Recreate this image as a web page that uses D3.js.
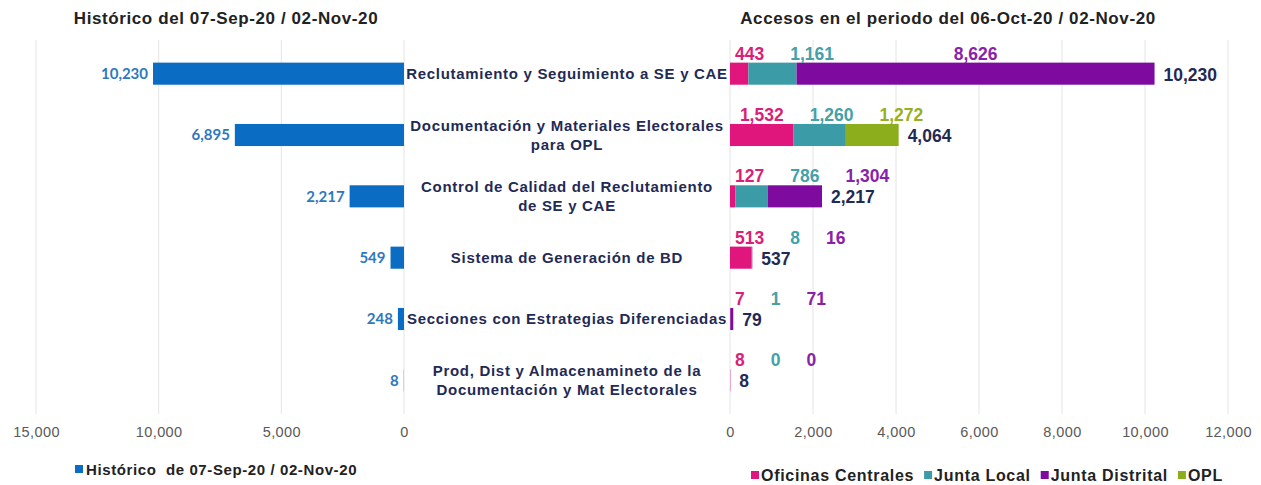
<!DOCTYPE html>
<html>
<head>
<meta charset="utf-8">
<script src="https://cdn.jsdelivr.net/npm/d3@7"></script>
<style>
  body { margin: 0; background: #fff; }
  svg { font-family: "Liberation Sans", Arial, sans-serif; }
</style>
</head>
<body>
<svg id="chart" width="1261" height="485"></svg>
<script>
// data
const categories = [
  "Reclutamiento y Seguimiento a SE y CAE",
  "Documentación y Materiales Electorales\npara OPL",
  "Control de Calidad del Reclutamiento\nde SE y CAE",
  "Sistema de Generación de BD",
  "Secciones con Estrategias Diferenciadas",
  "Prod, Dist y Almacenamineto de la\nDocumentación y Mat Electorales"
];
const historico = [10230, 6895, 2217, 549, 248, 8];
const oficinasCentrales = [443, 1532, 127, 513, 7, 8];
const juntaLocal = [1161, 1260, 786, 8, 1, 0];
const juntaDistrital = [8626, null, 1304, 16, 71, 0];
const opl = [null, 1272, null, null, null, null];

const leftTicks = [15000, 10000, 5000, 0];
const rightTicks = [0, 2000, 4000, 6000, 8000, 10000, 12000];

const leftTitle = "Histórico del 07-Sep-20 / 02-Nov-20";
const rightTitle = "Accesos en el periodo del 06-Oct-20 / 02-Nov-20";
const leftLegend = "Histórico  de 07-Sep-20 / 02-Nov-20";

const series = [
  { name: "Oficinas Centrales", values: oficinasCentrales, color: "#e0167c", label: "#d91f78" },
  { name: "Junta Local", values: juntaLocal, color: "#3b9ba6", label: "#45a0a8" },
  { name: "Junta Distrital", values: juntaDistrital, color: "#7e0aa0", label: "#8a22a8" },
  { name: "OPL", values: opl, color: "#8cad1c", label: "#96b023" }
];

const svg = d3.select("#chart");
const fmt = d3.format(",");
const navy = "#1f2a55";

// scales
const y = d3.scaleBand().domain(d3.range(categories.length))
  .range([43, 411]).paddingInner(0.64).paddingOuter(0.32);
const xL = d3.scaleLinear().domain([0, 15000]).range([404, 36]);
const xR = d3.scaleLinear().domain([0, 12000]).range([730, 1228]);

// gridlines
const grid = svg.append("g");
grid.selectAll("line.gl").data(leftTicks).enter().append("line")
  .attr("x1", d => xL(d)).attr("x2", d => xL(d))
  .attr("y1", 40).attr("y2", 414)
  .attr("stroke", "#e4e4e4").attr("stroke-width", 1);
grid.selectAll("line.gr").data(rightTicks).enter().append("line")
  .attr("x1", d => xR(d)).attr("x2", d => xR(d))
  .attr("y1", 40).attr("y2", 414)
  .attr("stroke", "#e4e4e4").attr("stroke-width", 1);

// axes (labels only)
const axL = svg.append("g").attr("transform", "translate(0,422)")
  .call(d3.axisBottom(xL).tickValues(leftTicks).tickFormat(fmt).tickSize(0));
const axR = svg.append("g").attr("transform", "translate(0,422)")
  .call(d3.axisBottom(xR).tickValues(rightTicks).tickFormat(fmt).tickSize(0));
[axL, axR].forEach(a => {
  a.select(".domain").remove();
  a.selectAll("text").attr("fill", "#595959").attr("font-size", 14.5)
    .attr("letter-spacing", 0.4)
    .attr("font-family", "'Liberation Sans', Arial, sans-serif").attr("dy", "0.85em");
});

// left bars
svg.append("g").selectAll("rect").data(historico).enter().append("rect")
  .attr("x", d => xL(d)).attr("y", (d, i) => y(i))
  .attr("width", d => xL(0) - xL(d)).attr("height", y.bandwidth())
  .attr("fill", "#0a6cc2");
svg.append("g").selectAll("text").data(historico).enter().append("text")
  .attr("x", d => xL(d) - 5).attr("y", (d, i) => y(i) + y.bandwidth() / 2)
  .attr("dy", "0.35em").attr("text-anchor", "end")
  .attr("font-family", "Lato, 'Open Sans', sans-serif")
  .attr("font-weight", "bold").attr("font-size", 15).attr("fill", "#2f78bd")
  .text(d => fmt(d));

// right stacked bars
const stackRows = categories.map((c, i) => {
  const row = { i };
  series.forEach(s => { row[s.name] = s.values[i] || 0; });
  return row;
});
const stacked = d3.stack().keys(series.map(s => s.name))(stackRows);
svg.append("g").selectAll("g").data(stacked).enter().append("g")
  .attr("fill", (d, k) => series[k].color)
  .selectAll("rect").data(d => d).enter().append("rect")
  .attr("x", d => xR(d[0])).attr("y", d => y(d.data.i))
  .attr("width", d => xR(d[1]) - xR(d[0])).attr("height", y.bandwidth());

// segment labels above bars, pushed right so they do not collide
const segLayer = svg.append("g").attr("font-weight", "bold").attr("font-size", 17.5);
categories.forEach((c, i) => {
  let prevRight = null;
  let cum = 0;
  series.forEach(s => {
    const v = s.values[i];
    if (v === null) return;
    const t = segLayer.append("text").attr("fill", s.label)
      .attr("text-anchor", "middle")
      .attr("y", y(i) - 3).text(fmt(v));
    const w = t.node().getComputedTextLength();
    const center = xR(cum + v / 2);
    const minX = prevRight === null ? xR(0) + 5 + w / 2 : prevRight + 26 + w / 2;
    const cx = Math.max(center, minX);
    t.attr("x", cx);
    prevRight = cx + w / 2;
    cum += v;
  });
});

// totals
const totals = categories.map((c, i) => d3.sum(series, s => s.values[i] || 0));
svg.append("g").selectAll("text").data(totals).enter().append("text")
  .attr("x", d => xR(d) + 9).attr("y", (d, i) => y(i) + y.bandwidth() / 2 + 1)
  .attr("dy", "0.35em").attr("font-weight", "bold").attr("font-size", 17.5)
  .attr("fill", navy).text(d => fmt(d));

// category labels in the middle
const catLayer = svg.append("g").attr("font-weight", "bold").attr("font-size", 15)
  .attr("letter-spacing", 0.7)
  .attr("fill", navy).attr("text-anchor", "middle");
categories.forEach((c, i) => {
  const lines = c.split("\n");
  const cy = y(i) + y.bandwidth() / 2;
  const t = catLayer.append("text").attr("x", 567)
    .attr("y", cy - (lines.length - 1) * 9.5);
  lines.forEach((l, k) => {
    t.append("tspan").attr("x", 567).attr("dy", k === 0 ? "0.35em" : 19).text(l);
  });
});

// titles
svg.append("text").attr("x", 226).attr("y", 24).attr("text-anchor", "middle")
  .attr("font-weight", "bold").attr("font-size", 17).attr("letter-spacing", 0.6)
  .attr("fill", "#222").text(leftTitle);
svg.append("text").attr("x", 948).attr("y", 24).attr("text-anchor", "middle")
  .attr("font-weight", "bold").attr("font-size", 17).attr("letter-spacing", 0.6)
  .attr("fill", "#222").text(rightTitle);

// legends
const lg = svg.append("g").attr("font-weight", "bold").attr("fill", "#222");
lg.append("rect").attr("x", 75).attr("y", 465).attr("width", 8).attr("height", 8).attr("fill", "#0a6cc2");
lg.append("text").attr("x", 86).attr("y", 470).attr("dy", "0.35em")
  .attr("font-size", 15).attr("letter-spacing", 0.6)
  .attr("xml:space", "preserve").style("white-space", "pre").text(leftLegend);

let lx = 751;
series.forEach(s => {
  lg.append("rect").attr("x", lx).attr("y", 471).attr("width", 8).attr("height", 8).attr("fill", s.color);
  const t = lg.append("text").attr("x", lx + 10).attr("y", 475).attr("dy", "0.35em")
    .attr("font-size", 16).attr("letter-spacing", 0.7).text(s.name);
  lx += 10 + t.node().getComputedTextLength() + 10;
});
</script>
</body>
</html>
